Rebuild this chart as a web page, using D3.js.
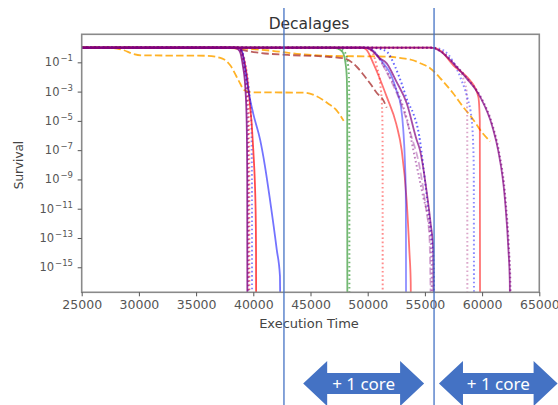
<!DOCTYPE html>
<html>
<head>
<meta charset="utf-8">
<script src="https://cdn.jsdelivr.net/npm/d3@7"></script>
<style>
  body { margin: 0; background: #fff; }
  svg { display: block; }
  .tick text { font-family: "DejaVu Sans", sans-serif; }
</style>
</head>
<body>
<div class="chart"></div>
<script>
// tick values
var xTicks = [25000, 30000, 35000, 40000, 45000, 50000, 55000, 60000, 65000];
var yTickExps = [-1, -3, -5, -7, -9, -11, -13, -15];

// survival curves, [execution time, survival]
var orangeA = [[25000,1],[27500,0.95],[28600,0.7],[29500,0.38],[30300,0.3],[36000,0.28],[37300,0.18],[38000,6e-2],[38700,6e-3],[39200,1.3e-3],[39800,9e-4],[44500,8.5e-4],[45500,5e-4],[46500,1.6e-4],[47300,5e-5],[47900,1e-5]];
var orangeB = [[25000,1],[37000,0.95],[39500,0.83],[41500,0.63],[43800,0.38],[46500,0.28],[52000,0.24],[52800,0.2],[53800,0.15],[54700,0.08],[55450,4e-2],[56500,6e-3],[57450,8e-4],[58300,1e-4],[59200,1.3e-5],[60000,1.6e-6],[60700,4e-7]];
var brownA = [[25000,1],[38000,1],[39000,0.7],[40500,0.45],[43000,0.32],[46500,0.24],[48000,0.18],[49040,5e-2],[49700,1.2e-2],[50200,3.7e-3],[50800,8e-4],[51350,2.7e-4],[51660,8e-5]];

var purple40 = [[25000,1],[38400,1],[38800,0.6],[39100,5e-2],[39300,2e-3],[39420,1e-5],[39470,1e-9],[39480,1e-17]];
var purple40Dot = [[25000,1],[38500,1],[38900,0.6],[39200,5e-2],[39400,2e-3],[39520,1e-5],[39560,1e-9],[39570,1e-17]];
var red40Dot = [[25000,1],[38500,1],[38950,0.6],[39250,5e-2],[39480,2e-3],[39620,1e-5],[39650,1e-9],[39660,1e-17]];
var blue40Dot = [[25000,1],[38600,1],[39000,0.6],[39350,5e-2],[39600,2e-3],[39820,1e-5],[39880,1e-9],[39890,1e-17]];
var red40 = [[25000,1],[38700,1],[39100,0.3],[39600,1e-3],[40000,1e-7],[40200,1e-11],[40240,1e-14],[40245,1e-17]];
var blue40 = [[25000,1],[38600,1],[39000,0.6],[39300,3e-2],[39560,1.3e-3],[40000,3e-5],[40600,5e-7],[41000,1e-8],[41460,4e-11],[42050,1.6e-14],[42330,2.5e-16],[42350,1e-17]];

var green48 = [[25000,1],[46800,1],[47400,0.85],[47800,0.5],[48050,0.1],[48170,1e-2],[48210,1e-4],[48220,1e-17]];
var green48Dot = [[25000,1],[47000,1],[47600,0.85],[48000,0.5],[48250,0.1],[48360,1e-2],[48390,1e-4],[48400,1e-17]];

var red51Dot = [[25000,1],[49900,1],[50400,0.5],[50800,5e-2],[51100,3e-3],[51250,1e-4],[51300,1e-6],[51310,1e-17]];
var red53 = [[25000,1],[49500,1],[49900,0.7],[50490,8.5e-2],[51000,1e-2],[51660,4.5e-4],[52500,6e-6],[52970,1e-7],[53400,4e-11],[53650,1e-14],[53760,1e-16],[53770,1e-17]];
var blue53 = [[25000,1],[50000,1],[50400,0.7],[51300,0.1],[52000,1.6e-2],[52500,1.3e-3],[52900,1e-4],[53110,2.5e-6],[53260,1.3e-8],[53330,1e-10],[53345,1e-13],[53350,1e-17]];
var blue55Dot = [[25000,1],[50200,1],[51000,0.85],[51700,0.5],[52400,5e-2],[53000,3e-3],[53500,2e-4],[54000,3e-5],[54500,1e-6],[54900,4e-9],[55300,1e-11],[55600,1e-13],[55780,1e-15],[55800,1e-17]];
var purple55Dash = [[25000,1],[49800,1],[50600,0.5],[51400,5e-2],[52200,3e-3],[53000,1e-4],[53800,1e-6],[54500,1e-8],[55100,1e-11],[55400,1e-13],[55500,1e-17]];
var purple55Dot = [[25000,1],[49800,1],[50500,0.6],[51300,8e-2],[52000,8e-3],[52800,4e-4],[53500,8e-6],[53990,1e-7],[54800,1e-10],[55450,2e-13],[55590,1e-15],[55600,1e-17]];
var purple55 = [[25000,1],[49600,1],[50300,0.7],[51000,0.2],[51660,8.5e-2],[52500,5e-3],[53410,1.6e-4],[54280,5e-7],[54570,1e-7],[55100,3e-10],[55500,1e-12],[55730,1.6e-14],[55750,1e-17]];

var purple59Dot = [[25000,1],[55500,1],[56300,0.6],[57400,0.1],[58300,1e-2],[58650,1e-3],[58700,1e-5],[58710,1e-17]];
var blue59Dot = [[25000,1],[55700,1],[56400,0.8],[57100,0.3],[57700,5e-2],[58200,6e-3],[58700,4e-4],[59100,1e-5],[59270,1e-8],[59290,1e-17]];
var red60 = [[25000,1],[55600,1],[56400,0.6],[57500,6e-2],[58400,1.6e-2],[58940,6e-3],[59670,4.5e-4],[59800,1e-5],[59820,1e-17]];
var purple62Dot = [[25000,1],[55600,1],[56400,0.6],[57550,8.5e-2],[58700,8e-3],[59870,4.5e-4],[60950,4e-6],[61450,1e-7],[62050,4e-11],[62350,1.6e-14],[62470,1e-16],[62480,1e-17]];
var purple62 = [[25000,1],[55500,1],[56300,0.6],[57480,8.5e-2],[58650,8e-3],[59820,4.5e-4],[60900,4e-6],[61400,1e-7],[62000,4e-11],[62300,1.6e-14],[62420,1e-16],[62430,1e-17]];

// annotation overlay (times on the x axis)
var markerTimes = [42680, 55800];
var arrowSpans = [[44360, 54930], [56230, 66600]];
var arrowLabel = "+ 1 core";

var dashed = "7.4,3.2", dotted = "1.6,2.6";

// draw order = matplotlib plot order
var series = [
  {data: orangeA, color: "#ffa500", dash: dashed, op: 0.85},
  {data: orangeB, color: "#ffa500", dash: dashed, op: 0.85},
  {data: brownA, color: "#a52a2a", dash: dashed, op: 0.75},
  {data: green48, color: "#008000", dash: null, op: 0.55},
  {data: green48Dot, color: "#008000", dash: dotted, op: 0.55},
  {data: red40Dot, color: "#ff0000", dash: dotted, op: 0.5},
  {data: blue40Dot, color: "#0000ff", dash: dotted, op: 0.45},
  {data: red40, color: "#ff0000", dash: null, op: 0.7},
  {data: blue40, color: "#0000ff", dash: null, op: 0.55},
  {data: red51Dot, color: "#ff0000", dash: dotted, op: 0.45},
  {data: red53, color: "#ff0000", dash: null, op: 0.55},
  {data: blue53, color: "#0000ff", dash: null, op: 0.45},
  {data: blue55Dot, color: "#0000ff", dash: dotted, op: 0.6},
  {data: purple55Dash, color: "#800080", dash: dashed, op: 0.35},
  {data: purple55Dot, color: "#800080", dash: dotted, op: 0.5},
  {data: purple59Dot, color: "#c060a0", dash: dotted, op: 0.55},
  {data: blue59Dot, color: "#0000ff", dash: dotted, op: 0.45},
  {data: red60, color: "#ff0000", dash: null, op: 0.55},
  {data: purple62Dot, color: "#800080", dash: dotted, op: 0.6},
  {data: purple40Dot, color: "#800080", dash: dotted, op: 0.6},
  {data: purple55, color: "#800080", dash: null, op: 0.7},
  {data: purple62, color: "#800080", dash: null, op: 0.7},
  {data: purple40, color: "#800080", dash: null, op: 0.8}
];

var svgWidth = 558;
var svgHeight = 405;

var svg = d3.select(".chart")
    .append("svg")
    .attr("width", svgWidth)
    .attr("height", svgHeight);

var plotLeft = 81.7, plotRight = 539.3, plotTop = 34.3, plotBottom = 292.3;

var x = d3.scaleLinear()
    .domain([25000, 65000])
    .range([plotLeft, plotRight]);

var y = d3.scaleLog()
    .domain([Math.pow(10, -16.71), Math.pow(10, 0.915)])
    .range([plotBottom, plotTop]);

svg.append("clipPath")
    .attr("id", "plotClip")
  .append("rect")
    .attr("x", plotLeft)
    .attr("y", plotTop)
    .attr("width", plotRight - plotLeft)
    .attr("height", plotBottom - plotTop);

// curves
var line = d3.line()
    .x(d => x(d[0]))
    .y(d => y(d[1]))
    .curve(d3.curveMonotoneX);

var curves = svg.append("g").attr("clip-path", "url(#plotClip)");
series.forEach(function(s) {
  curves.append("path")
      .datum(s.data)
      .attr("d", line)
      .attr("fill", "none")
      .attr("stroke", s.color)
      .attr("stroke-opacity", s.op)
      .attr("stroke-width", s.dash === dotted ? 2 : 1.8)
      .attr("stroke-dasharray", s.dash);
});

// frame
svg.append("rect")
    .attr("x", plotLeft)
    .attr("y", plotTop)
    .attr("width", plotRight - plotLeft)
    .attr("height", plotBottom - plotTop)
    .attr("fill", "none")
    .attr("stroke", "#8a8a8a")
    .attr("stroke-width", 1.6);

// x axis
var xAxis = svg.append("g")
    .attr("transform", `translate(0, ${plotBottom})`)
    .call(d3.axisBottom(x).tickValues(xTicks).tickFormat(d3.format("d")).tickSize(4).tickPadding(4));
xAxis.select(".domain").remove();
xAxis.selectAll(".tick line").attr("stroke", "#555");
xAxis.selectAll(".tick text").attr("font-size", 12.5).attr("fill", "#555");

// y axis (log, every 2 decades)
var yAxis = svg.append("g")
    .attr("transform", `translate(${plotLeft}, 0)`)
    .call(d3.axisLeft(y).tickValues(yTickExps.map(e => Math.pow(10, e))).tickFormat("").tickSize(4));
yAxis.select(".domain").remove();
yAxis.selectAll(".tick line").attr("stroke", "#555");

var yLabels = svg.append("g")
    .attr("font-family", "DejaVu Sans, sans-serif")
    .attr("fill", "#555");
yTickExps.forEach(function(e) {
  var t = yLabels.append("text")
      .attr("x", 73)
      .attr("y", y(Math.pow(10, e)) + 4)
      .attr("text-anchor", "end")
      .attr("font-size", 11.5);
  t.append("tspan").text("10");
  t.append("tspan")
      .attr("dx", 1)
      .attr("dy", -5)
      .attr("font-size", 8.5)
      .text("\u2212" + (-e));
});

// labels
svg.append("text")
    .attr("x", 309)
    .attr("y", 29)
    .attr("text-anchor", "middle")
    .attr("font-family", "DejaVu Sans, sans-serif")
    .attr("font-size", 15.5)
    .attr("fill", "#333")
    .text("Decalages");

svg.append("text")
    .attr("x", 309)
    .attr("y", 328)
    .attr("text-anchor", "middle")
    .attr("font-family", "DejaVu Sans, sans-serif")
    .attr("font-size", 13)
    .attr("fill", "#444")
    .text("Execution Time");

svg.append("text")
    .attr("transform", "translate(23, 165) rotate(-90)")
    .attr("text-anchor", "middle")
    .attr("font-family", "DejaVu Sans, sans-serif")
    .attr("font-size", 12)
    .attr("fill", "#444")
    .text("Survival");

// overlay: vertical markers and arrows
var officeBlue = "#4472c4";
svg.selectAll("line.marker")
    .data(markerTimes)
    .enter()
    .append("line")
    .attr("class", "marker")
    .attr("x1", d => x(d))
    .attr("x2", d => x(d))
    .attr("y1", 8)
    .attr("y2", svgHeight)
    .attr("stroke", officeBlue)
    .attr("stroke-width", 1.3);

var cy = 383.5, hh = 22.6, sh = 10.6, hl = 24;
function arrowPath(d) {
  var x0 = x(d[0]), x1 = x(d[1]);
  return `M${x0},${cy} L${x0 + hl},${cy - hh} L${x0 + hl},${cy - sh} L${x1 - hl},${cy - sh} L${x1 - hl},${cy - hh} L${x1},${cy} ` +
         `L${x1 - hl},${cy + hh} L${x1 - hl},${cy + sh} L${x0 + hl},${cy + sh} L${x0 + hl},${cy + hh} Z`;
}
var arrows = svg.selectAll("g.arrow")
    .data(arrowSpans)
    .enter()
    .append("g")
    .attr("class", "arrow");
arrows.append("path")
    .attr("d", arrowPath)
    .attr("fill", officeBlue);
arrows.append("text")
    .attr("x", d => (x(d[0]) + x(d[1])) / 2)
    .attr("y", 390)
    .attr("text-anchor", "middle")
    .attr("font-family", "Noto Sans, sans-serif")
    .attr("font-size", 17)
    .attr("fill", "#fff")
    .text(arrowLabel);
</script>
</body>
</html>
